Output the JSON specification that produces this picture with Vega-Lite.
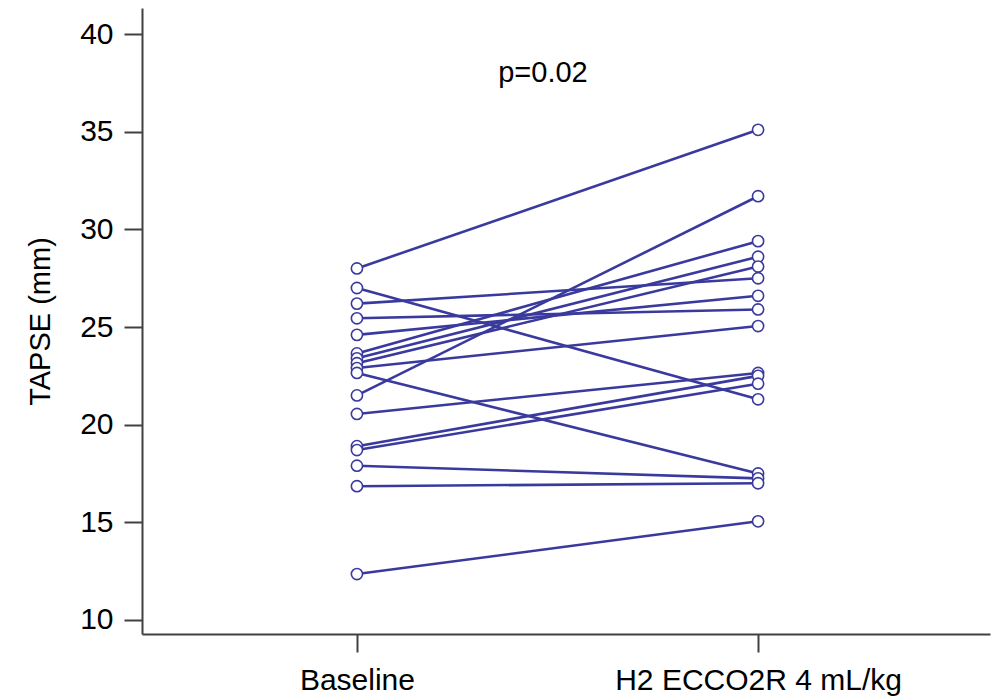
{
  "$schema": "https://vega.github.io/schema/vega-lite/v6.json",
  "width": 848,
  "height": 626,
  "autosize": {"type": "none"},
  "padding": {"left": 142, "top": 8, "right": 10, "bottom": 63},
  "background": "white",
  "config": {
    "view": {"stroke": null},
    "font": "Liberation Sans",
    "axis": {
      "grid": false,
      "domainColor": "#404040",
      "domainWidth": 2,
      "tickColor": "#404040",
      "tickWidth": 2,
      "tickSize": 18,
      "labelFont": "Liberation Sans",
      "labelColor": "#000000",
      "labelLimit": 0,
      "titleFont": "Liberation Sans",
      "titleFontSize": 29,
      "titleFontWeight": "normal",
      "titleColor": "#000000"
    }
  },
  "datasets": {
    "tapse": [
      {"id": 1, "time": "Baseline", "tapse": 28.0}, {"id": 1, "time": "H2 ECCO2R 4 mL/kg", "tapse": 35.1},
      {"id": 2, "time": "Baseline", "tapse": 27.0}, {"id": 2, "time": "H2 ECCO2R 4 mL/kg", "tapse": 21.3},
      {"id": 3, "time": "Baseline", "tapse": 26.2}, {"id": 3, "time": "H2 ECCO2R 4 mL/kg", "tapse": 27.5},
      {"id": 4, "time": "Baseline", "tapse": 25.45}, {"id": 4, "time": "H2 ECCO2R 4 mL/kg", "tapse": 25.9},
      {"id": 5, "time": "Baseline", "tapse": 24.6}, {"id": 5, "time": "H2 ECCO2R 4 mL/kg", "tapse": 26.6},
      {"id": 6, "time": "Baseline", "tapse": 23.65}, {"id": 6, "time": "H2 ECCO2R 4 mL/kg", "tapse": 29.4},
      {"id": 7, "time": "Baseline", "tapse": 23.4}, {"id": 7, "time": "H2 ECCO2R 4 mL/kg", "tapse": 28.6},
      {"id": 8, "time": "Baseline", "tapse": 23.15}, {"id": 8, "time": "H2 ECCO2R 4 mL/kg", "tapse": 28.1},
      {"id": 9, "time": "Baseline", "tapse": 22.9}, {"id": 9, "time": "H2 ECCO2R 4 mL/kg", "tapse": 25.05},
      {"id": 10, "time": "Baseline", "tapse": 22.65}, {"id": 10, "time": "H2 ECCO2R 4 mL/kg", "tapse": 17.5},
      {"id": 11, "time": "Baseline", "tapse": 21.5}, {"id": 11, "time": "H2 ECCO2R 4 mL/kg", "tapse": 31.7},
      {"id": 12, "time": "Baseline", "tapse": 20.55}, {"id": 12, "time": "H2 ECCO2R 4 mL/kg", "tapse": 22.65},
      {"id": 13, "time": "Baseline", "tapse": 18.9}, {"id": 13, "time": "H2 ECCO2R 4 mL/kg", "tapse": 22.5},
      {"id": 14, "time": "Baseline", "tapse": 18.7}, {"id": 14, "time": "H2 ECCO2R 4 mL/kg", "tapse": 22.1},
      {"id": 15, "time": "Baseline", "tapse": 17.9}, {"id": 15, "time": "H2 ECCO2R 4 mL/kg", "tapse": 17.25},
      {"id": 16, "time": "Baseline", "tapse": 16.85}, {"id": 16, "time": "H2 ECCO2R 4 mL/kg", "tapse": 17.0},
      {"id": 17, "time": "Baseline", "tapse": 12.35}, {"id": 17, "time": "H2 ECCO2R 4 mL/kg", "tapse": 15.05}
    ],
    "note": [{"time": "Baseline", "tapse": 38.0, "label": "p=0.02"}]
  },
  "encoding": {
    "x": {
      "field": "time",
      "type": "nominal",
      "sort": ["Baseline", "H2 ECCO2R 4 mL/kg"],
      "scale": {"type": "point", "padding": 0.557, "align": 0.481},
      "axis": {"title": null, "labelAngle": 0, "labelPadding": 13, "labelFontSize": 30}
    },
    "y": {
      "field": "tapse",
      "type": "quantitative",
      "scale": {"domain": [9.28, 41.34], "nice": false, "zero": false},
      "axis": {"title": "TAPSE (mm)", "values": [10, 15, 20, 25, 30, 35, 40], "labelPadding": 11, "labelFontSize": 30, "titlePadding": 24}
    }
  },
  "layer": [
    {
      "data": {"name": "tapse"},
      "mark": {"type": "line", "color": "#3a3a9e", "strokeWidth": 2.6},
      "encoding": {"detail": {"field": "id", "type": "nominal"}}
    },
    {
      "data": {"name": "tapse"},
      "mark": {"type": "point", "shape": "circle", "filled": true, "fill": "white", "stroke": "#3a3a9e", "strokeWidth": 1.6, "size": 125, "opacity": 1}
    },
    {
      "data": {"name": "note"},
      "mark": {"type": "text", "fontSize": 29, "font": "Liberation Sans", "color": "#000000", "dx": 186, "baseline": "middle", "align": "center"},
      "encoding": {"text": {"field": "label"}}
    }
  ]
}
